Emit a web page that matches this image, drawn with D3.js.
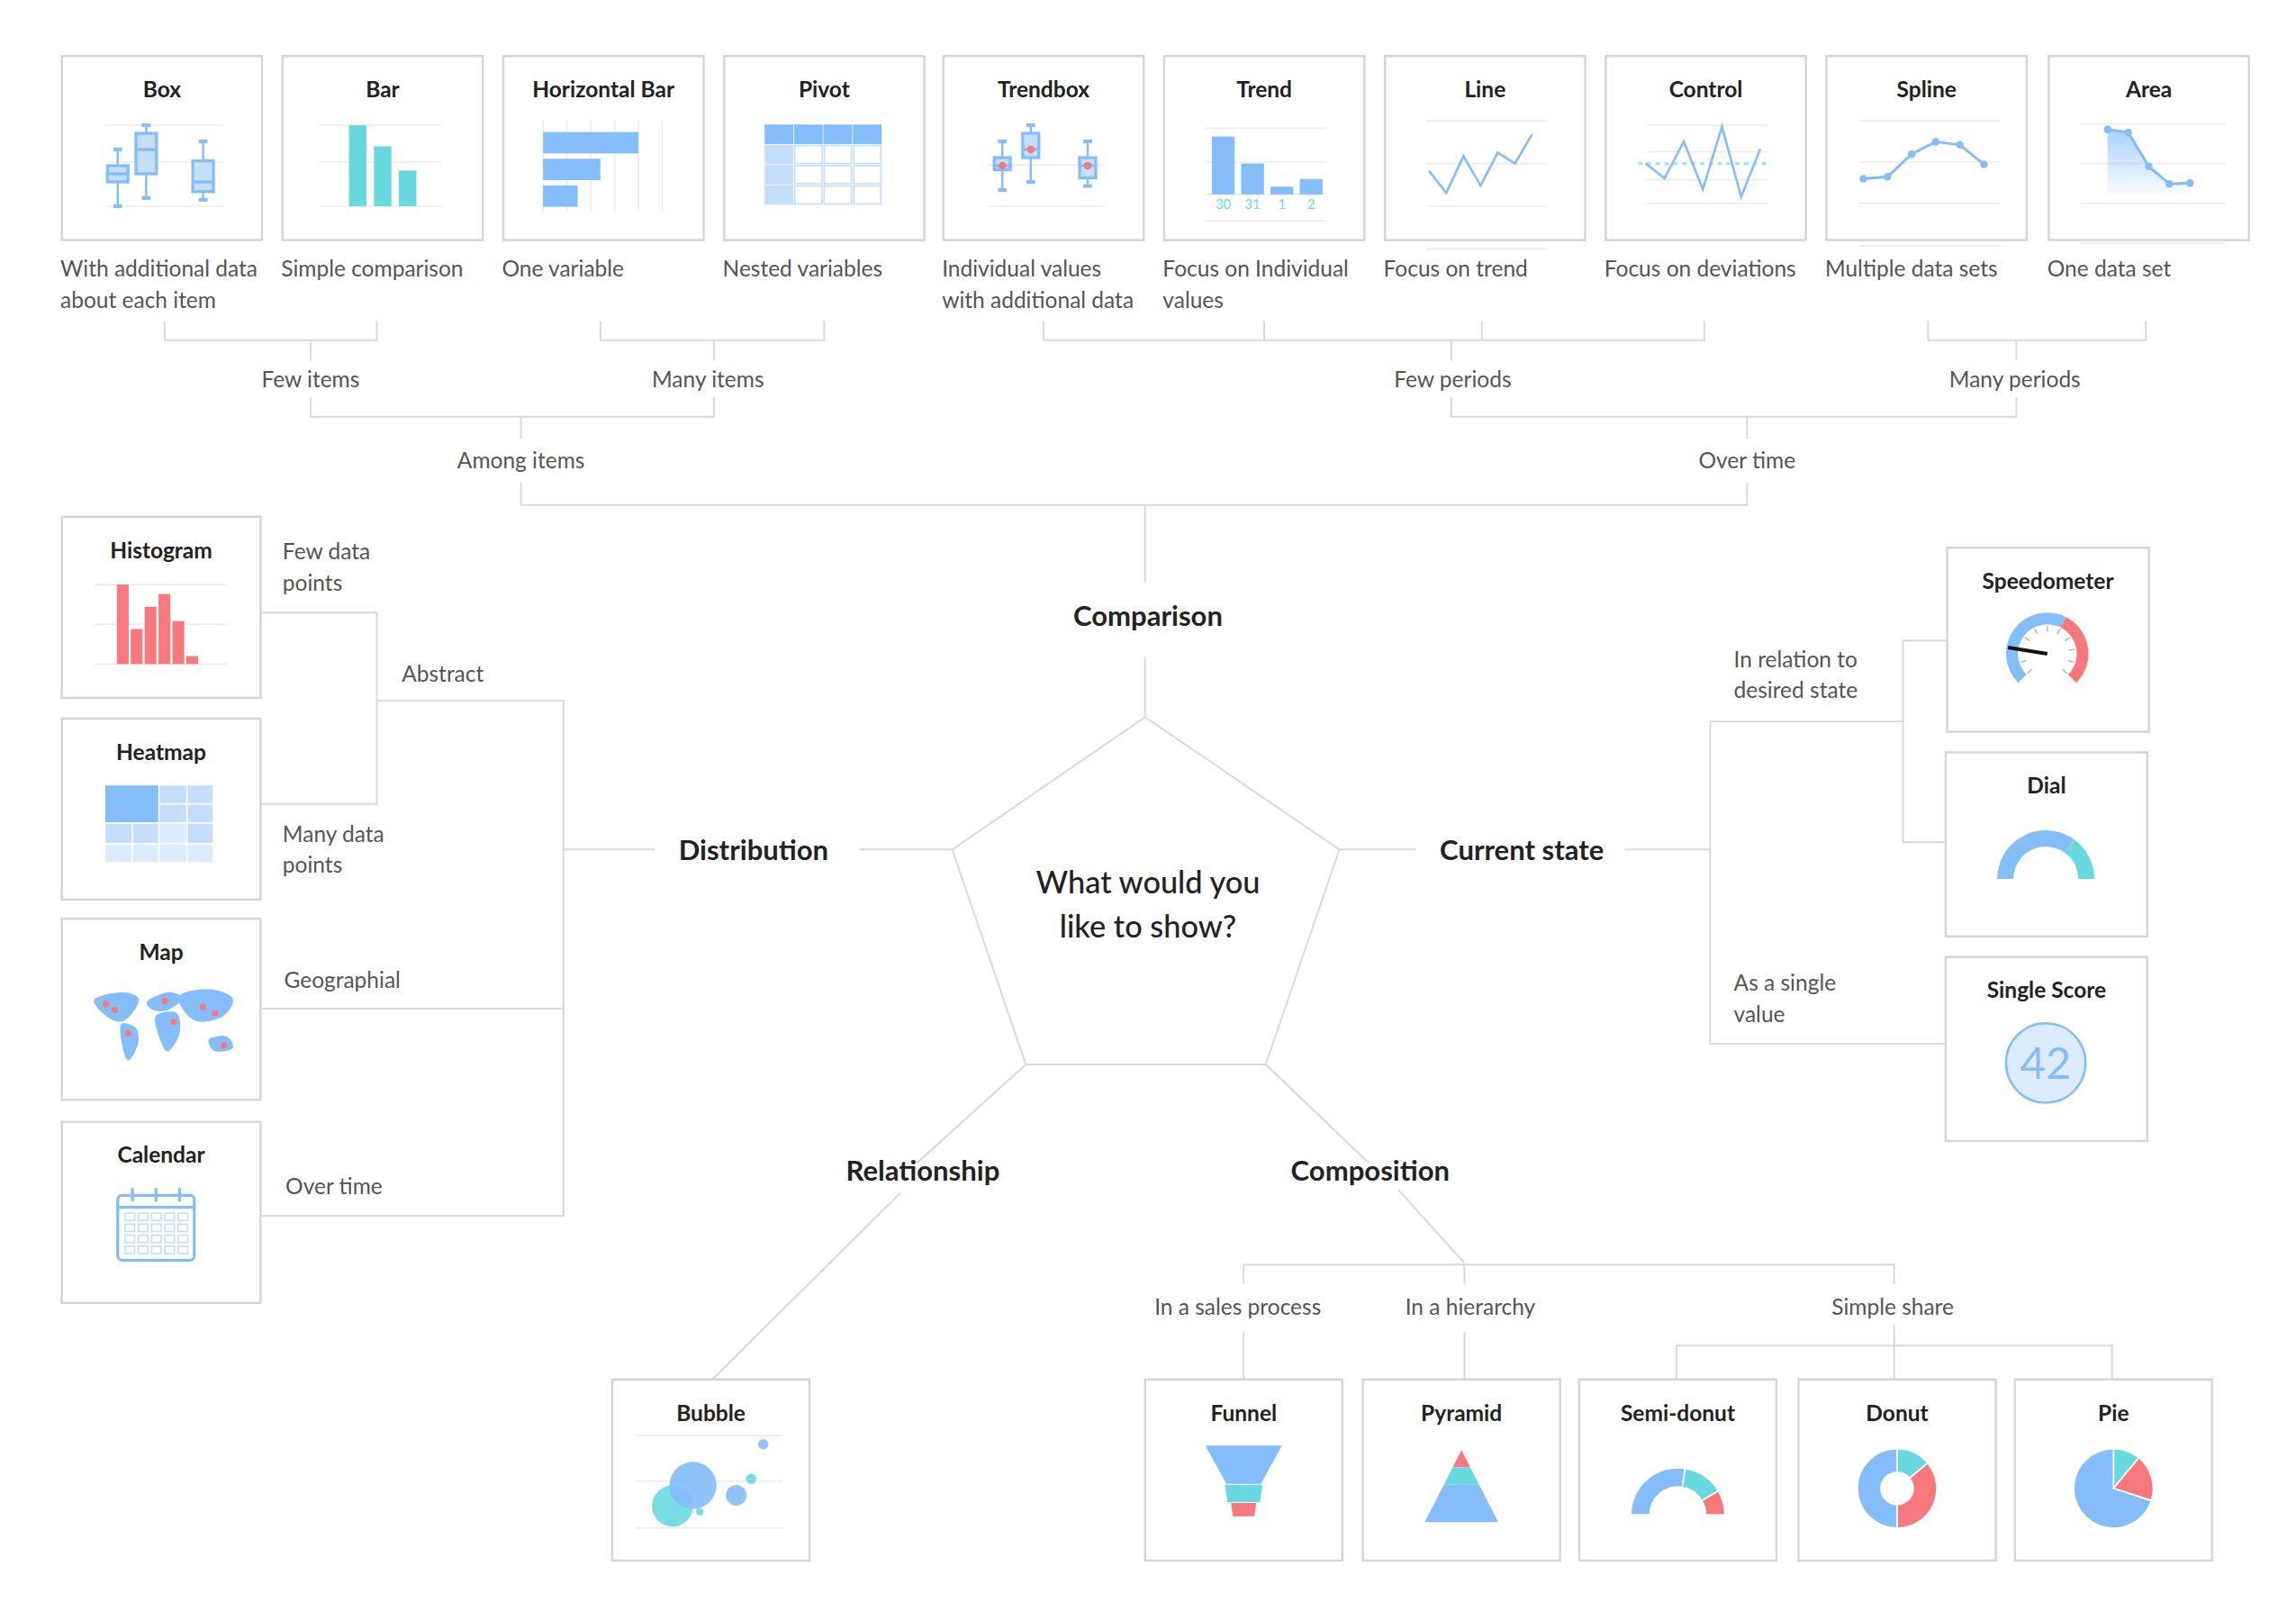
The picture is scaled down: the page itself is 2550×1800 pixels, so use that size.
<!DOCTYPE html>
<html><head><meta charset="utf-8">
<script src="https://cdn.jsdelivr.net/npm/d3@7"></script>
<style>
body{margin:0;background:#fff;}
text{font-family:Lato,"Noto Sans",sans-serif;}
</style></head>
<body><svg id="chart"></svg>
<script>
// colours
var BLUE = "#85bdfb", LIGHT = "#c4defc", PALE = "#dcebfd", TEAL = "#69d9e0", RED = "#f7797d", LINE = "#d9d9d9";

// top row of chart types
var topCards = [
	{name: "Box", x: 42, cap: ["With additional data", "about each item"]},
	{name: "Bar", x: 192, cap: ["Simple comparison"]},
	{name: "Horizontal Bar", x: 342, cap: ["One variable"]},
	{name: "Pivot", x: 492, cap: ["Nested variables"]},
	{name: "Trendbox", x: 641, cap: ["Individual values", "with additional data"]},
	{name: "Trend", x: 791, cap: ["Focus on Individual", "values"]},
	{name: "Line", x: 941, cap: ["Focus on trend"]},
	{name: "Control", x: 1091, cap: ["Focus on deviations"]},
	{name: "Spline", x: 1241, cap: ["Multiple data sets"]},
	{name: "Area", x: 1392, cap: ["One data set"]}
];
var leftCards = [
	{name: "Histogram", y: 351}, {name: "Heatmap", y: 488},
	{name: "Map", y: 624}, {name: "Calendar", y: 762}
];
var rightCards = [
	{name: "Speedometer", x: 1323, y: 372}, {name: "Dial", x: 1322, y: 511},
	{name: "Single Score", x: 1322, y: 650}
];
var bottomCards = [
	{name: "Bubble", x: 416}, {name: "Funnel", x: 778}, {name: "Pyramid", x: 926},
	{name: "Semi-donut", x: 1073}, {name: "Donut", x: 1222}, {name: "Pie", x: 1369}
];

// mini chart values
var boxValues = [
	{x: 0, min: 0, q1: 3, med: 4, q3: 5, max: 7},
	{x: 1, min: 1, q1: 4, med: 7, q3: 9, max: 10},
	{x: 3, min: 0.8, q1: 1.8, med: 3, q3: 5.6, max: 8}
];
var barValues = [10, 7.4, 4.4];
var hbarValues = [8, 4.8, 2.9];
var trendboxValues = [
	{x: 0, min: 2, q1: 4.5, med: 5, q3: 6, max: 8},
	{x: 1, min: 3, q1: 6, med: 7, q3: 9, max: 10},
	{x: 3, min: 2.5, q1: 3.5, med: 5, q3: 6, max: 8}
];
var trendValues = [30, 16, 4, 8];
var trendLabels = ["30", "31", "1", "2"];
var lineValues = [4, 1, 6, 2, 6.5, 5, 9];
var controlValues = [5, 3, 8, 1.5, 10, 0.5, 7];
var controlMean = 5;
var splineValues = [3.8, 4, 6.2, 7.4, 7.1, 5.2];
var areaValues = [8.6, 8.3, 5, 3.3, 3.4];
var histValues = [10, 4.4, 7.2, 8.8, 5.4, 1];
// heatmap shade levels, 4 rows x 4 columns (top-left 2x2 drawn as one block)
var heatRows = [[3, 3, 2, 2], [3, 3, 2, 2], [2, 2, 1, 2], [1, 1, 1, 1]];
var speedSegments = [{v: 60, c: BLUE}, {v: 40, c: RED}];
var speedNeedle = 20;
var dialSegments = [{v: 70, c: BLUE}, {v: 30, c: TEAL}];
var singleScore = 42;
var bubbleValues = [
	{x: 2.5, y: 2.5, r: 14, c: TEAL}, {x: 4, y: 5, r: 16, c: BLUE},
	{x: 7.2, y: 3.8, r: 7, c: BLUE}, {x: 8.3, y: 5.8, r: 3.5, c: TEAL},
	{x: 9.2, y: 10, r: 3.5, c: BLUE}, {x: 4.5, y: 1.8, r: 2.5, c: TEAL}
];
var funnelSteps = [{w: 1, c: BLUE}, {w: 0.45, c: TEAL}, {w: 0.3, c: RED}];
var pyramidSteps = [{v: 1, c: RED}, {v: 1, c: TEAL}, {v: 2.2, c: BLUE}];
var semiValues = [{v: 55, c: BLUE}, {v: 28, c: TEAL}, {v: 17, c: RED}];
var donutValues = [{v: 14, c: TEAL}, {v: 36, c: RED}, {v: 50, c: BLUE}];
var pieValues = [{v: 11, c: TEAL}, {v: 19, c: RED}, {v: 70, c: BLUE}];

var svg = d3.select("#chart")
	.attr("width", 2550).attr("height", 1800)
	.attr("viewBox", "0 0 1560 1101");

var lines = svg.append("g").attr("fill", "none").attr("stroke", LINE).attr("stroke-width", 1.2);
function path(pts) {
	lines.append("path").attr("d", d3.line()(pts));
}
function label(x, y, t, opt) {
	opt = opt || {};
	svg.append("text").attr("x", x).attr("y", y)
		.attr("text-anchor", opt.anchor || "middle")
		.attr("font-size", opt.size || 15)
		.attr("font-weight", opt.weight || 400)
		.attr("fill", opt.fill || "#555")
		.text(t);
}

// ----- connector lines -----
// comparison tree
path([[112, 218], [112, 231], [256, 231], [256, 218]]); path([[211, 231], [211, 245]]);
path([[408, 218], [408, 231], [560, 231], [560, 218]]); path([[485, 231], [485, 245]]);
path([[709, 218], [709, 231], [1158, 231], [1158, 218]]);
path([[859, 218], [859, 231]]); path([[1007, 218], [1007, 231]]); path([[986, 231], [986, 245]]);
path([[1310, 218], [1310, 231], [1458, 231], [1458, 218]]); path([[1370, 231], [1370, 245]]);
path([[211, 270], [211, 283], [485, 283], [485, 270]]); path([[354, 283], [354, 298]]);
path([[986, 270], [986, 283], [1370, 283], [1370, 270]]); path([[1187, 283], [1187, 298]]);
path([[354, 328], [354, 343], [1187, 343], [1187, 328]]); path([[778, 343], [778, 396]]);
path([[778, 446], [778, 487]]);
// distribution tree
path([[177, 416], [256, 416], [256, 546], [177, 546]]);
path([[256, 476], [383, 476], [383, 826], [177, 826]]);
path([[177, 685], [383, 685]]);
path([[383, 577], [445, 577]]); path([[584, 577], [647, 577]]);
// current state tree
path([[910, 577], [962, 577]]); path([[1104, 577], [1162, 577]]);
path([[1293, 490], [1162, 490], [1162, 709], [1322, 709]]);
path([[1323, 435], [1293, 435], [1293, 572], [1322, 572]]);
// relationship / composition
path([[697, 723], [623, 790]]); path([[612, 810], [484, 937]]);
path([[860, 723], [930, 790]]); path([[950, 808], [995, 858]]);
path([[845, 872], [845, 859], [1287, 859], [1287, 872]]); path([[995, 859], [995, 872]]);
path([[845, 905], [845, 937]]); path([[995, 905], [995, 937]]); path([[1287, 900], [1287, 914]]);
path([[1139, 937], [1139, 914], [1435, 914], [1435, 937]]); path([[1287, 914], [1287, 937]]);
// pentagon
path([[778, 487], [910, 577], [860, 723], [697, 723], [647, 577], [778, 487]]);

// ----- text labels -----
label(211, 263, "Few items"); label(481, 263, "Many items");
label(987, 263, "Few periods"); label(1369, 263, "Many periods");
label(354, 318, "Among items"); label(1187, 318, "Over time");
var sec = {size: 19, weight: 700, fill: "#222"};
label(780, 425, "Comparison", sec); label(512, 584, "Distribution", sec);
label(1034, 584, "Current state", sec); label(627, 802, "Relationship", sec);
label(931, 802, "Composition", sec);
var ctr = {size: 21, weight: 500, fill: "#222"};
label(780, 607, "What would you", ctr); label(780, 637, "like to show?", ctr);
var L = {anchor: "start"};
label(192, 380, "Few data", L); label(192, 401, "points", L);
label(273, 463, "Abstract", L);
label(192, 572, "Many data", L); label(192, 593, "points", L);
label(193, 671, "Geographial", L); label(194, 811, "Over time", L);
label(1178, 453, "In relation to", L); label(1178, 474, "desired state", L);
label(1178, 673, "As a single", L); label(1178, 694, "value", L);
label(841, 893, "In a sales process"); label(999, 893, "In a hierarchy"); label(1286, 893, "Simple share");

// ----- cards -----
function card(x, y, w, h, name) {
	var g = svg.append("g").attr("transform", "translate(" + x + "," + y + ")");
	g.append("rect").attr("width", w).attr("height", h)
		.attr("fill", "#fff").attr("stroke", "#d6d6d6").attr("stroke-width", 1.5);
	g.append("text").attr("x", w / 2).attr("y", 28).attr("text-anchor", "middle")
		.attr("font-size", 15).attr("font-weight", 700).attr("fill", "#222").text(name);
	return g;
}
function grid(g, ys, x0, x1) {
	g.selectAll(null).data(ys).join("line")
		.attr("x1", x0).attr("x2", x1).attr("y1", d => d).attr("y2", d => d)
		.attr("stroke", "#ececec").attr("stroke-width", 1);
}
function boxes(g, data, xs, y, bw, withDot) {
	data.forEach(function(d) {
		var cx = xs(d.x);
		g.append("line").attr("x1", cx).attr("x2", cx).attr("y1", y(d.min)).attr("y2", y(d.max))
			.attr("stroke", BLUE).attr("stroke-width", 1.5);
		[d.min, d.max].forEach(v => g.append("line").attr("x1", cx - 3).attr("x2", cx + 3)
			.attr("y1", y(v)).attr("y2", y(v)).attr("stroke", BLUE).attr("stroke-width", 2.5));
		g.append("rect").attr("x", cx - bw / 2).attr("width", bw).attr("y", y(d.q3))
			.attr("height", y(d.q1) - y(d.q3)).attr("fill", LIGHT).attr("stroke", BLUE).attr("stroke-width", 2);
		g.append("line").attr("x1", cx - bw / 2).attr("x2", cx + bw / 2).attr("y1", y(d.med)).attr("y2", y(d.med))
			.attr("stroke", BLUE).attr("stroke-width", 2);
		if (withDot) g.append("circle").attr("cx", cx).attr("cy", y(d.med)).attr("r", 2.6).attr("fill", RED);
	});
}

var W = 136, H = 125;
topCards.forEach(function(c) {
	var g = card(c.x, 38, W, H, c.name);
	c.cap.forEach((t, i) => label(c.x - 1, 188 + i * 21, t, L));
	var y = d3.scaleLinear().domain([0, 10]).range([102, 47]);
	if (c.name === "Box") {
		grid(g, [47, 72, 102], 30, 110);
		boxes(g, boxValues, d3.scaleLinear().domain([0, 3]).range([38, 96]), y, 14, false);
	} else if (c.name === "Bar") {
		grid(g, [47, 72, 102], 25, 108);
		var xb = d3.scaleBand().domain(d3.range(barValues.length)).range([40, 96]).padding(0.3);
		g.selectAll(null).data(barValues).join("rect")
			.attr("x", (d, i) => xb(i)).attr("width", xb.bandwidth())
			.attr("y", d => y(d)).attr("height", d => 102 - y(d)).attr("fill", TEAL);
	} else if (c.name === "Horizontal Bar") {
		var xh = d3.scaleLinear().domain([0, 10]).range([27, 108]);
		d3.range(0, 12, 2).forEach(v => g.append("line").attr("x1", xh(v)).attr("x2", xh(v))
			.attr("y1", 44).attr("y2", 106).attr("stroke", "#ececec"));
		var yb = d3.scaleBand().domain(d3.range(3)).range([48, 106]).padding(0.2);
		g.selectAll(null).data(hbarValues).join("rect")
			.attr("x", xh(0)).attr("width", d => xh(d) - xh(0))
			.attr("y", (d, i) => yb(i)).attr("height", yb.bandwidth()).attr("fill", BLUE);
	} else if (c.name === "Pivot") {
		var xs = d3.scaleBand().domain(d3.range(4)).range([28, 108]);
		var ys = d3.scaleBand().domain(d3.range(4)).range([47, 102]);
		d3.range(4).forEach(r => d3.range(4).forEach(k => g.append("rect")
			.attr("x", xs(k)).attr("y", ys(r)).attr("width", xs.bandwidth() - 1.5).attr("height", ys.bandwidth() - 1.5)
			.attr("fill", r === 0 ? BLUE : (k === 0 ? LIGHT : "#fff"))
			.attr("stroke", r === 0 ? BLUE : LIGHT)));
	} else if (c.name === "Trendbox") {
		grid(g, [74, 102], 30, 110);
		boxes(g, trendboxValues, d3.scaleLinear().domain([0, 3]).range([40, 98]), y, 11, true);
	} else if (c.name === "Trend") {
		grid(g, [49, 72, 94, 112], 28, 110);
		var yt = d3.scaleLinear().domain([0, 32]).range([94, 52]);
		var xt = d3.scaleBand().domain(d3.range(4)).range([28, 112]).padding(0.22);
		g.selectAll(null).data(trendValues).join("rect")
			.attr("x", (d, i) => xt(i)).attr("width", xt.bandwidth())
			.attr("y", d => yt(d)).attr("height", d => 94 - yt(d)).attr("fill", BLUE);
		g.selectAll(null).data(trendLabels).join("text")
			.attr("x", (d, i) => xt(i) + xt.bandwidth() / 2).attr("y", 104).attr("text-anchor", "middle")
			.attr("font-size", 9).attr("fill", TEAL).text(d => d);
	} else if (c.name === "Line" || c.name === "Control") {
		var vals = c.name === "Line" ? lineValues : controlValues;
		grid(g, c.name === "Line" ? [44, 73, 102, 131] : [47, 65, 84, 100], 28, 110);
		var xl = d3.scaleLinear().domain([0, vals.length - 1]).range(c.name === "Line" ? [30, 100] : [27, 105]);
		var yl = d3.scaleLinear().domain([0, 10]).range([98, 48]);
		if (c.name === "Control") g.append("line").attr("x1", 22).attr("x2", 112)
			.attr("y1", yl(controlMean)).attr("y2", yl(controlMean))
			.attr("stroke", TEAL).attr("stroke-width", 2).attr("stroke-dasharray", "3,3").attr("opacity", 0.6);
		g.append("path").attr("d", d3.line().x((d, i) => xl(i)).y(d => yl(d))(vals))
			.attr("fill", "none").attr("stroke", BLUE).attr("stroke-width", 1.6);
	} else if (c.name === "Spline") {
		grid(g, [44, 72, 100, 129], 22, 118);
		var xsp = d3.scaleLinear().domain([0, 5]).range([25, 107]);
		var ysp = d3.scaleLinear().domain([0, 10]).range([110, 40]);
		g.append("path").attr("d", d3.line().x((d, i) => xsp(i)).y(d => ysp(d))(splineValues))
			.attr("fill", "none").attr("stroke", BLUE).attr("stroke-width", 1.8);
		g.selectAll(null).data(splineValues).join("circle")
			.attr("cx", (d, i) => xsp(i)).attr("cy", d => ysp(d)).attr("r", 2.6).attr("fill", BLUE);
	} else if (c.name === "Area") {
		grid(g, [46, 73, 100, 127], 22, 120);
		var xa = d3.scaleLinear().domain([0, 4]).range([40, 96]);
		var ya = d3.scaleLinear().domain([0, 10]).range([110, 40]);
		var grad = svg.append("defs").append("linearGradient").attr("id", "areaGrad")
			.attr("x1", 0).attr("x2", 0).attr("y1", 0).attr("y2", 1);
		grad.append("stop").attr("offset", 0).attr("stop-color", BLUE).attr("stop-opacity", 0.7);
		grad.append("stop").attr("offset", 1).attr("stop-color", BLUE).attr("stop-opacity", 0.05);
		g.append("path").attr("d", d3.area().x((d, i) => xa(i)).y0(ya(2.3)).y1(d => ya(d))(areaValues))
			.attr("fill", "url(#areaGrad)");
		g.append("path").attr("d", d3.line().x((d, i) => xa(i)).y(d => ya(d))(areaValues))
			.attr("fill", "none").attr("stroke", BLUE).attr("stroke-width", 1.8);
		g.selectAll(null).data(areaValues).join("circle")
			.attr("cx", (d, i) => xa(i)).attr("cy", d => ya(d)).attr("r", 2.6).attr("fill", BLUE);
	}
});

leftCards.forEach(function(c) {
	var g = card(42, c.y, 135, 123, c.name);
	if (c.name === "Histogram") {
		grid(g, [46, 73, 100], 22, 112);
		var xh = d3.scaleBand().domain(d3.range(histValues.length)).range([36, 94]).padding(0.15);
		var yh = d3.scaleLinear().domain([0, 10]).range([100, 46]);
		g.selectAll(null).data(histValues).join("rect")
			.attr("x", (d, i) => xh(i)).attr("width", xh.bandwidth())
			.attr("y", d => yh(d)).attr("height", d => 100 - yh(d)).attr("fill", RED);
	} else if (c.name === "Heatmap") {
		var shades = {3: BLUE, 2: LIGHT, 1: PALE};
		var hx = d3.scaleLinear().domain([0, 4]).range([29, 103]);
		var hy = d3.scaleLinear().domain([0, 4]).range([45, 98]);
		// cell widths: first column wide
		var colEdges = [29, 48, 66, 85, 103], rowEdges = [45, 58, 71, 85, 98];
		heatRows.forEach((row, r) => row.forEach((v, k) => {
			if (r < 2 && k < 2 && !(r === 0 && k === 0)) return;
			var big = r === 0 && k === 0;
			var x0 = colEdges[k], y0 = rowEdges[r];
			var x1 = big ? colEdges[2] : colEdges[k + 1], y1 = big ? rowEdges[2] : rowEdges[r + 1];
			g.append("rect").attr("x", x0 + 0.5).attr("y", y0 + 0.5)
				.attr("width", x1 - x0 - 1).attr("height", y1 - y0 - 1).attr("fill", shades[v]);
		}));
	} else if (c.name === "Map") {
		var blobs = [
			[[22, 55], [40, 50], [52, 54], [48, 64], [40, 70], [30, 66]],
			[[40, 72], [50, 74], [52, 84], [46, 96], [42, 90]],
			[[58, 56], [72, 50], [82, 54], [72, 62], [62, 62]],
			[[64, 66], [78, 64], [80, 78], [72, 90], [66, 80]],
			[[80, 52], [100, 48], [116, 54], [110, 66], [94, 70], [84, 64]],
			[[100, 82], [112, 80], [116, 88], [104, 90]]
		];
		g.selectAll(null).data(blobs).join("path")
			.attr("d", d => d3.line().curve(d3.curveCardinalClosed)(d)).attr("fill", BLUE);
		var dots = [[30, 58], [45, 78], [70, 56], [76, 70], [96, 60], [104, 64], [110, 86], [36, 62]];
		g.selectAll(null).data(dots).join("circle").attr("cx", d => d[0]).attr("cy", d => d[1])
			.attr("r", 2.2).attr("fill", RED);
	} else if (c.name === "Calendar") {
		g.append("rect").attr("x", 38).attr("y", 50).attr("width", 52).attr("height", 44).attr("rx", 3)
			.attr("fill", "#fff").attr("stroke", BLUE).attr("stroke-width", 2);
		g.append("line").attr("x1", 38).attr("x2", 90).attr("y1", 58).attr("y2", 58).attr("stroke", BLUE).attr("stroke-width", 2);
		[48, 64, 80].forEach(x => g.append("line").attr("x1", x).attr("x2", x).attr("y1", 45).attr("y2", 54)
			.attr("stroke", BLUE).attr("stroke-width", 2));
		d3.range(4).forEach(r => d3.range(5).forEach(k => g.append("rect")
			.attr("x", 43 + k * 9).attr("y", 62 + r * 7.5).attr("width", 6.5).attr("height", 5)
			.attr("fill", "none").attr("stroke", LIGHT).attr("stroke-width", 1)));
	}
});

rightCards.forEach(function(c) {
	var g = card(c.x, c.y, 137, 125, c.name);
	var cx = 68, cy = 72;
	if (c.name === "Speedometer") {
		var total = d3.sum(speedSegments, d => d.v);
		var ang = d3.scaleLinear().domain([0, total]).range([-Math.PI * 0.75, Math.PI * 0.75]);
		var acc = 0;
		speedSegments.forEach(function(s) {
			g.append("path").attr("transform", "translate(" + cx + "," + cy + ")")
				.attr("d", d3.arc().innerRadius(20).outerRadius(28).startAngle(ang(acc)).endAngle(ang(acc + s.v))())
				.attr("fill", s.c);
			acc += s.v;
		});
		d3.range(0, total + 1, 10).forEach(function(v) {
			var a = ang(v);
			g.append("line").attr("x1", cx + Math.sin(a) * 15).attr("y1", cy - Math.cos(a) * 15)
				.attr("x2", cx + Math.sin(a) * 19).attr("y2", cy - Math.cos(a) * 19)
				.attr("stroke", "#bbb").attr("stroke-width", 1);
		});
		var na = ang(speedNeedle);
		g.append("line").attr("x1", cx).attr("y1", cy)
			.attr("x2", cx + Math.sin(na) * 27).attr("y2", cy - Math.cos(na) * 27)
			.attr("stroke", "#111").attr("stroke-width", 2.5);
	} else if (c.name === "Dial") {
		var pieD = d3.pie().value(d => d.v).sort(null).startAngle(-Math.PI / 2).endAngle(Math.PI / 2);
		g.selectAll(null).data(pieD(dialSegments)).join("path")
			.attr("transform", "translate(68,86)")
			.attr("d", d3.arc().innerRadius(22).outerRadius(33)).attr("fill", d => d.data.c);
	} else {
		g.append("circle").attr("cx", 68).attr("cy", 72).attr("r", 27)
			.attr("fill", PALE).attr("stroke", BLUE).attr("stroke-width", 1.5);
		g.append("text").attr("x", 68).attr("y", 83).attr("text-anchor", "middle")
			.attr("font-size", 30).attr("fill", BLUE).text(singleScore);
	}
});

bottomCards.forEach(function(c) {
	var g = card(c.x, 937, 134, 123, c.name);
	if (c.name === "Bubble") {
		grid(g, [38, 69, 101], 16, 116);
		var xb = d3.scaleLinear().domain([0, 10]).range([18, 110]);
		var yb = d3.scaleLinear().domain([0, 10]).range([100, 44]);
		g.selectAll(null).data(bubbleValues).join("circle")
			.attr("cx", d => xb(d.x)).attr("cy", d => yb(d.y)).attr("r", d => d.r)
			.attr("fill", d => d.c).attr("opacity", 0.9);
	} else if (c.name === "Funnel") {
		var top = 45, hs = [26, 12, 9], w0 = 52, yy = top;
		funnelSteps.forEach(function(s, i) {
			var wTop = i === 0 ? w0 : w0 * funnelSteps[i].w * 1.1;
			var wBot = i === 0 ? w0 * 0.45 : wTop;
			g.append("path").attr("d", d3.line()([[67 - wTop / 2, yy], [67 + wTop / 2, yy],
				[67 + (i === 0 ? wBot : wTop * 0.85) / 2, yy + hs[i]], [67 - (i === 0 ? wBot : wTop * 0.85) / 2, yy + hs[i]]]))
				.attr("fill", s.c);
			yy += hs[i] + 0.5;
		});
	} else if (c.name === "Pyramid") {
		var tot = d3.sum(pyramidSteps, d => d.v);
		var yp = d3.scaleLinear().domain([0, tot]).range([48, 97]);
		var half = v => (yp(v) - 48) / 49 * 25;
		var acc = 0;
		pyramidSteps.forEach(function(s) {
			var a = acc, b = acc + s.v;
			g.append("path").attr("d", d3.line()([[67 - half(a), yp(a)], [67 + half(a), yp(a)],
				[67 + half(b), yp(b)], [67 - half(b), yp(b)]])).attr("fill", s.c);
			acc = b;
		});
	} else {
		var vals = c.name === "Semi-donut" ? semiValues : c.name === "Donut" ? donutValues : pieValues;
		var semi = c.name === "Semi-donut";
		var pie = d3.pie().value(d => d.v).sort(null);
		if (semi) pie.startAngle(-Math.PI / 2).endAngle(Math.PI / 2);
		var arc = d3.arc().innerRadius(semi ? 19 : c.name === "Donut" ? 11 : 0).outerRadius(semi ? 32 : 27);
		g.selectAll(null).data(pie(vals)).join("path")
			.attr("transform", semi ? "translate(67,92)" : "translate(67,74)")
			.attr("d", arc).attr("fill", d => d.data.c).attr("stroke", "#fff").attr("stroke-width", 1);
	}
});
</script>
</body></html>
